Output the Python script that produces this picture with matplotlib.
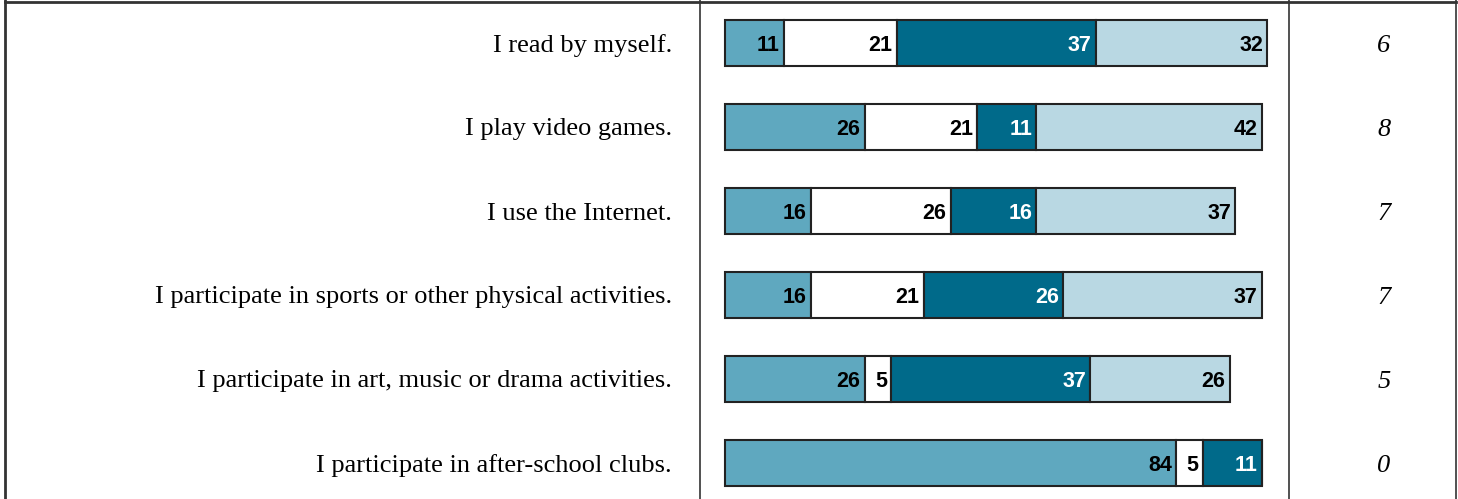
import matplotlib
matplotlib.use("Agg")
import matplotlib.pyplot as plt
from matplotlib.lines import Line2D
from matplotlib.transforms import blended_transform_factory

# data
statements = ["I read by myself.",
              "I play video games.",
              "I use the Internet.",
              "I participate in sports or other physical activities.",
              "I participate in art, music or drama activities.",
              "I participate in after-school clubs."]
seg1 = [11, 26, 16, 16, 26, 84]
seg2 = [21, 21, 26, 21, 5, 5]
seg3 = [37, 11, 16, 26, 37, 11]
seg4 = [32, 42, 37, 37, 26, 0]
missing = ["6", "8", "7", "7", "5", "0"]

seg_colors = ["#5fa8bf", "#ffffff", "#006a8a", "#b9d8e3"]
text_colors = ["black", "black", "white", "black"]

W, H = 1458, 499
fig = plt.figure(figsize=(W / 100, H / 100), dpi=100)

# bar area: 0..100 spans px 725..1262, rows every 84 px starting at 43
ax = fig.add_axes([725 / W, 0, 537 / W, 1])
ax.set_xlim(0, 100)
ax.set_ylim((H - 43) / 84, -43 / 84)
ax.axis("off")

rows = list(range(len(statements)))
left = [0] * len(rows)
for vals, col, tcol in zip([seg1, seg2, seg3, seg4], seg_colors, text_colors):
    bars = ax.barh(rows, vals, left=left, height=0.55, color=col,
                   edgecolor="#222222", linewidth=1.5)
    for b in bars:
        b.set_clip_on(False)
    for r in rows:
        if vals[r] > 0:
            ax.annotate(str(vals[r]), xy=(left[r] + vals[r], r),
                        xytext=(-3, 0), textcoords="offset points",
                        ha="right", va="center_baseline", fontsize=15.5,
                        fontweight="bold", color=tcol,
                        family="Liberation Sans", annotation_clip=False)
    left = [a + b for a, b in zip(left, vals)]

tr = blended_transform_factory(fig.transFigure, ax.transData)
for r in rows:
    ax.text(672 / W, r, statements[r], transform=tr, ha="right",
            va="center_baseline", fontsize=19, family="Liberation Serif")
    ax.text(1384 / W, r, missing[r], transform=tr, ha="center",
            va="center_baseline", fontsize=19, style="italic",
            family="Liberation Serif")

# table borders
for x in [5, 700, 1289, 1456]:
    lw = 2 if x == 5 else 1.2
    fig.add_artist(Line2D([x / W, x / W], [0, 1], color="#333333",
                          linewidth=lw, transform=fig.transFigure))
fig.add_artist(Line2D([5 / W, 1456 / W], [1 - 1.5 / H, 1 - 1.5 / H],
                      color="#333333", linewidth=2,
                      transform=fig.transFigure))

fig.savefig("out.png", dpi=100)
